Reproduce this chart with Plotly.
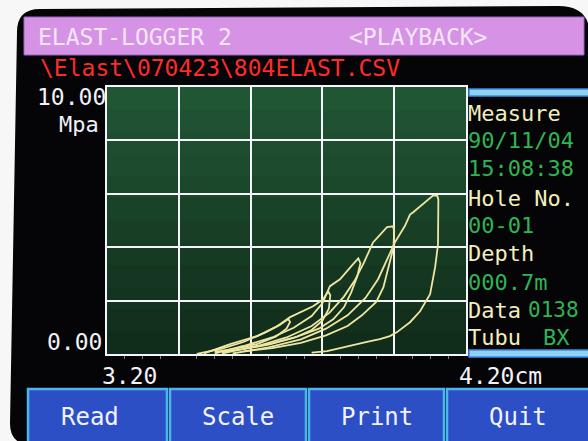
import plotly.graph_objects as go

W, H = 588, 441

# ---------------- data ----------------
x_range = [3.20, 4.20]          # cm
y_range = [0.0, 10.0]           # MPa
x_tick_labels = ["3.20", "4.20cm"]
y_tick_labels = ["10.00", "0.00"]
y_unit = "Mpa"

loop1_x = [3.45, 3.52, 3.58, 3.64, 3.68, 3.705, 3.71, 3.70, 3.67, 3.62, 3.56, 3.50]
loop1_y = [0.00, 0.20, 0.45, 0.80, 1.08, 1.31, 1.20, 0.95, 0.65, 0.38, 0.20, 0.08]

loop2_x = [3.47, 3.543, 3.618, 3.674, 3.71, 3.774, 3.802, 3.816, 3.822, 3.818, 3.80, 3.77, 3.72, 3.65, 3.58, 3.52]
loop2_y = [0.02, 0.37, 0.67, 1.04, 1.38, 1.79, 2.05, 2.35, 2.20, 1.70, 1.25, 0.90, 0.60, 0.35, 0.18, 0.08]

loop3_x = [3.50, 3.58, 3.66, 3.72, 3.77, 3.80, 3.821, 3.849, 3.885, 3.90, 3.906, 3.897, 3.88, 3.86, 3.83, 3.79, 3.73, 3.66, 3.58]
loop3_y = [0.02, 0.30, 0.62, 0.98, 1.42, 1.90, 2.54, 2.80, 3.36, 3.58, 3.40, 2.90, 2.30, 1.75, 1.30, 0.95, 0.65, 0.40, 0.20]

loop4_x = [3.52, 3.62, 3.70, 3.77, 3.82, 3.86, 3.89, 3.915, 3.941, 3.969, 3.98, 3.997, 4.00, 3.998, 3.985, 3.97, 3.95, 3.91, 3.87, 3.81, 3.74, 3.66, 3.58]
loop4_y = [0.02, 0.30, 0.62, 1.05, 1.55, 2.15, 2.75, 3.40, 4.18, 4.59, 4.75, 4.78, 4.60, 4.00, 3.25, 2.50, 1.95, 1.45, 1.05, 0.70, 0.42, 0.22, 0.10]

loop5_x = [3.55, 3.65, 3.74, 3.81, 3.87, 3.92, 3.955, 3.98, 4.002, 4.03, 4.044, 4.052, 4.10, 4.108, 4.12, 4.123,
           4.122, 4.114, 4.10, 4.091, 4.072, 4.044, 4.008, 3.988, 3.96, 3.924, 3.857, 3.813, 3.77]
loop5_y = [0.02, 0.25, 0.55, 0.95, 1.45, 2.10, 2.80, 3.50, 4.18, 4.80, 5.22, 5.30, 5.86, 5.93, 5.93, 5.78,
           4.10, 3.25, 2.24, 2.05, 1.60, 1.19, 0.82, 0.67, 0.56, 0.45, 0.26, 0.11, 0.05]

title_left = "ELAST-LOGGER 2"
title_right = "<PLAYBACK>"
file_path = "\\Elast\\070423\\804ELAST.CSV"
side_rows = [
    ("Measure", "label"), ("90/11/04", "value"), ("15:08:38", "value"),
    ("Hole No.", "label"), ("00-01", "value"), ("Depth", "label"), ("000.7m", "value"),
]
data_label, data_value = "Data", "0138"
tubu_label, tubu_value = "Tubu", "BX"
buttons = ["Read", "Scale", "Print", "Quit"]

# ---------------- styling ----------------
FONT = "DejaVu Sans Mono"
CURVE = "#efe6a2"
CREAM = "#f2eebc"
GREEN = "#2fb454"
WHITE = "#f2f2fb"

def px(x):
    return x / W

def py(y):
    return 1 - y / H

plot_l, plot_r, plot_t, plot_b = 107, 466, 87, 354

fig = go.Figure()
for lx, ly in [(loop1_x, loop1_y), (loop2_x, loop2_y), (loop3_x, loop3_y),
               (loop4_x, loop4_y), (loop5_x, loop5_y)]:
    fig.add_trace(go.Scatter(x=lx, y=ly, mode="lines",
                             line=dict(color=CURVE, width=1.8), hoverinfo="skip"))

shapes = []
# device bezel (black, rounded)
bezel = (f"M {px(17)},{py(32)} Q {px(17)},{py(9)} {px(40)},{py(9)} "
         f"L {px(558)},{py(6)} Q {px(590)},{py(6)} {px(590)},{py(36)} "
         f"L {px(592)},{py(445)} L {px(26)},{py(445)} "
         f"Q {px(10)},{py(441)} {px(10)},{py(424)} Z")
shapes.append(dict(type="path", path=bezel, xref="paper", yref="paper",
                   fillcolor="#050507", line=dict(width=0), layer="below"))
# title bar
shapes.append(dict(type="rect", xref="paper", yref="paper", x0=px(24), x1=px(584),
                   y0=py(55), y1=py(17), fillcolor="#d693e6",
                   line=dict(color="#9866c0", width=1), layer="below"))
# plot background gradient bands (slightly overlapping to avoid seams)
nb = 12
top_c = (33, 86, 52)
bot_c = (16, 44, 26)
for k in range(nb):
    t = k / (nb - 1)
    c = tuple(int(round(bot_c[i] + (top_c[i] - bot_c[i]) * t)) for i in range(3))
    shapes.append(dict(type="rect", xref="x domain", yref="y domain", x0=0, x1=1,
                       y0=k / nb, y1=min(1.0, (k + 1) / nb + 0.01), fillcolor=f"rgb{c}",
                       line=dict(width=0), layer="below"))
# right panel blue bars
for y0, y1 in [(89, 96), (350, 357)]:
    shapes.append(dict(type="rect", xref="paper", yref="paper", x0=px(469), x1=px(592),
                       y0=py(y1), y1=py(y0), fillcolor="#8fd2f6",
                       line=dict(color="#3a8ee2", width=1.5), layer="below"))
# buttons
btn_edges = [(28, 167), (170, 306), (309, 444), (447, 592)]
for (x0, x1) in btn_edges:
    shapes.append(dict(type="rect", xref="paper", yref="paper", x0=px(x0), x1=px(x1),
                       y0=py(446), y1=py(389), fillcolor="#2c4fc6",
                       line=dict(color="#4ab6f0", width=2.5), layer="below"))

ann = []

def text(x, y, s, color, size=23, anchor="left"):
    ann.append(dict(x=px(x), y=py(y), xref="paper", yref="paper", text=s, showarrow=False,
                    xanchor=anchor, yanchor="middle",
                    font=dict(family=FONT, size=size, color=color)))

text(36, 37, title_left, "#f4e6f8")
text(347, 37, title_right, "#f4e6f8")
text(38, 68, file_path.replace("\\", "&#92;"), "#ff2b2b")
text(108, 97, y_tick_labels[0], WHITE, anchor="right")
text(101, 124, y_unit, WHITE, size=22, anchor="right")
text(104, 342, y_tick_labels[1], WHITE, anchor="right")
text(129, 376, x_tick_labels[0], WHITE, anchor="center")
text(457, 376, x_tick_labels[1], WHITE)

row_y = [113, 140, 168, 198, 225, 253, 282]
for (s, kind), yy in zip(side_rows, row_y):
    text(466, yy, s, CREAM if kind == "label" else GREEN, size=22)
text(466, 310, data_label, CREAM, size=22)
text(526, 310, data_value, GREEN, size=21)
text(466, 337, tubu_label, CREAM, size=22)
text(541, 337, tubu_value, GREEN, size=22)

btn_cx = [90, 238, 377, 518]
for b, cx in zip(buttons, btn_cx):
    text(cx, 417, b, WHITE, size=24, anchor="center")

fig.update_layout(
    width=W, height=H,
    margin=dict(l=0, r=0, t=0, b=0),
    paper_bgcolor="#f7f7f7",
    plot_bgcolor="#1a4529",
    showlegend=False,
    shapes=shapes,
    annotations=ann,
    xaxis=dict(domain=[px(plot_l), px(plot_r)], range=x_range, dtick=0.2, tick0=3.2,
               showgrid=True, gridcolor="#f4f4fc", gridwidth=2, zeroline=False,
               showline=True, mirror=True, linecolor="#f4f4fc", linewidth=2,
               showticklabels=False, ticks="",
               minor=dict(ticks="outside", ticklen=3, tickcolor="#7a7a90", dtick=0.05, showgrid=False)),
    yaxis=dict(domain=[py(plot_b), py(plot_t)], range=y_range, dtick=2, tick0=0,
               showgrid=True, gridcolor="#f4f4fc", gridwidth=2, zeroline=False,
               showline=True, mirror=True, linecolor="#f4f4fc", linewidth=2,
               showticklabels=False, ticks=""),
)

fig.write_html("out.html", config={"displayModeBar": False, "staticPlot": True},
               post_script="document.body.style.margin='0';document.body.style.overflow='hidden';")
